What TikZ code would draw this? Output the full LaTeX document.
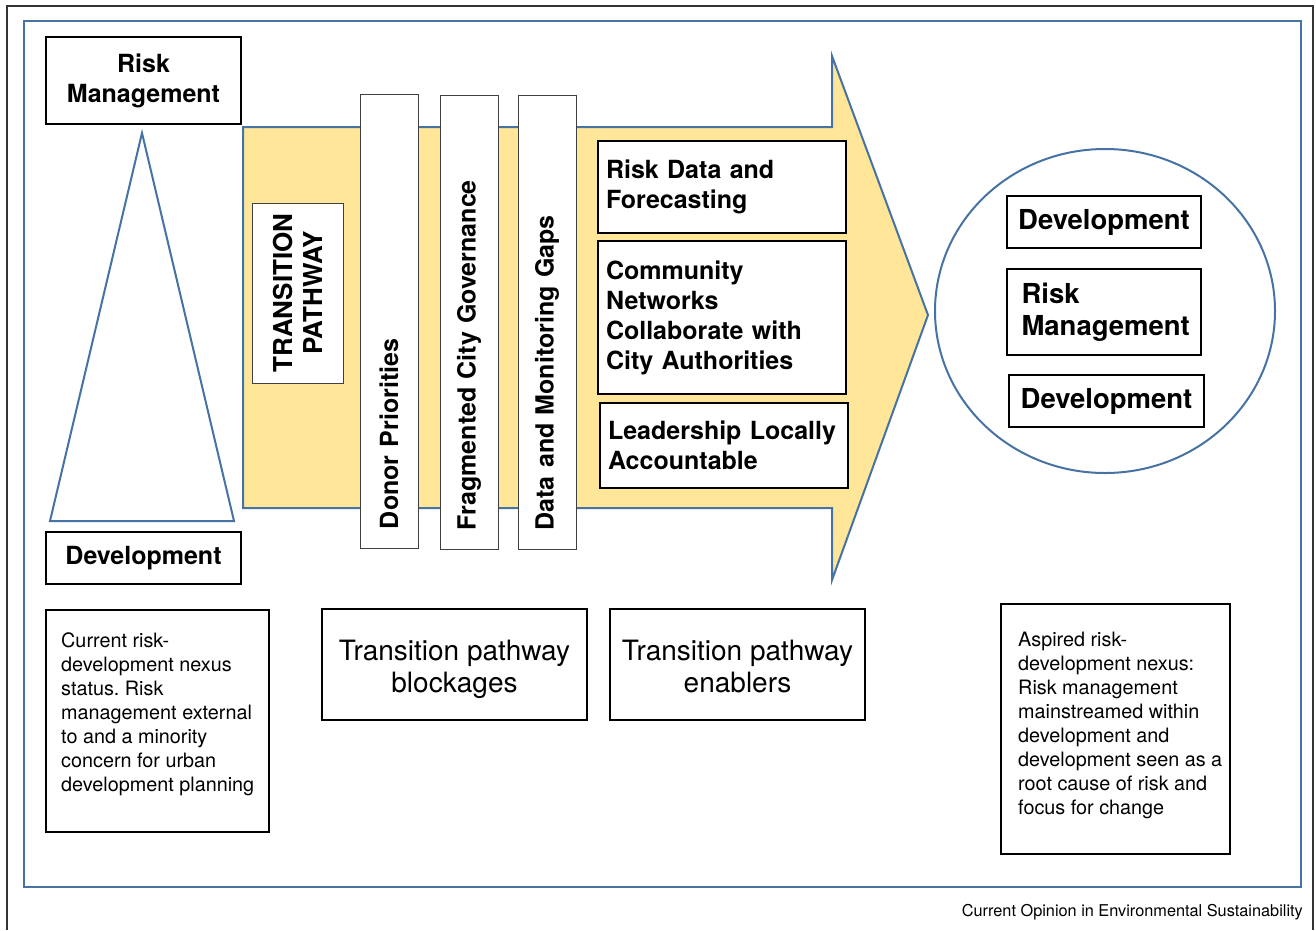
\documentclass[tikz,border=0pt]{standalone}
\usepackage{fontspec}
\setmainfont{TeX Gyre Heros}
\usetikzlibrary{shapes.geometric}
\definecolor{nexusblue}{RGB}{70,114,164}
\definecolor{pathyellow}{RGB}{255,230,153}
\frenchspacing

\tikzset{
  boldbox/.style={draw=black, line width=1.6pt, fill=white, inner sep=0pt,
    align=center, font=\fontsize{25}{30}\selectfont\bfseries},
  bigbold/.style={font=\fontsize{27.5}{32}\selectfont\bfseries},
  enabler/.style={draw=black, line width=1.6pt, fill=white, inner xsep=8pt,
    inner ysep=0pt, text width=232pt, align=left, font=\fontsize{25}{30}\selectfont\bfseries},
  blockbar/.style={draw=black!75, line width=0.8pt, fill=white, rotate=90,
    minimum width=454pt, minimum height=58pt, inner xsep=19pt, inner ysep=0pt,
    text width=416pt, align=left, font=\fontsize{25}{30}\selectfont\bfseries},
  notebox/.style={draw=black, line width=1.4pt, inner sep=0pt},
  bigtext/.style={inner sep=0pt, align=center, font=\fontsize{28}{32}\selectfont},
  notetext/.style={anchor=north west, inner sep=0pt, align=left,
    font=\fontsize{19.8}{24}\selectfont}
}

\begin{document}
\begin{tikzpicture}[x=1pt, y=-1pt]
    \useasboundingbox (0,0) rectangle (1316,930);
    % frames
    \draw[black!80, line width=1.2pt] (7,930) -- (7,6) -- (1313,6) -- (1313,930);
    \draw[nexusblue, line width=2.6pt] (24,21) rectangle (1301,887);

    % current nexus
    \node[boldbox, minimum width=195pt, minimum height=87pt] (riskleft) at (143.5,80.5) {Risk\\Management};
    \draw[nexusblue, line width=2pt] (142,133) -- (234,521) -- (50,521) -- cycle;
    \node[boldbox, minimum width=195pt, minimum height=52pt] (devleft) at (143.5,558) {Development};

    % transition arrow
    \draw[nexusblue, line width=2pt, fill=pathyellow] (243,127) -- (832,127) -- (832,56) -- (928,315)
        -- (832,580) -- (832,508) -- (243,508) -- cycle;
    \node[boldbox, draw=black!75, line width=0.8pt, rotate=90, minimum width=180pt, minimum height=91pt,
        font=\fontsize{26}{30}\selectfont\bfseries] (pathway) at (297.5,293) {TRANSITION\\PATHWAY};

    % blockages
    \node[blockbar] (donor) at (389,321) {Donor Priorities};
    \node[blockbar] (fragmented) at (469,322) {Fragmented City Governance};
    \node[blockbar] (datagaps) at (547,322.5) {Data and Monitoring Gaps};

    % enablers
    \node[enabler, minimum height=92pt] (riskdata) at (722,187) {Risk Data and\\Forecasting};
    \node[enabler, minimum height=153pt] (community) at (722,317.5) {Community\\Networks\\Collaborate with\\City Authorities};
    \node[enabler, minimum height=85pt] (leadership) at (724,445.5) {Leadership Locally\\Accountable};

    % aspired nexus
    \node[ellipse, draw=nexusblue, line width=2pt, minimum width=340pt, minimum height=324pt] (aspired) at (1105,311) {};
    \node[boldbox, bigbold, minimum width=194pt, minimum height=52pt] (devtop) at (1104,222) {Development};
    \node[boldbox, bigbold, align=left, text width=165pt, inner xsep=14.5pt, minimum height=86pt] (riskright) at (1104,312) {Risk\\Management};
    \node[boldbox, bigbold, minimum width=195pt, minimum height=52pt] (devbottom) at (1106.5,401) {Development};

    % captions
    \node[notebox, minimum width=223pt, minimum height=222pt] (currentbox) at (157.5,721) {};
    \node[notetext] (currenttext) at (61,632) {Current risk-\\development nexus\\status. Risk\\management external\\to and a minority\\concern for urban\\development planning};
    \node[notebox, minimum width=265pt, minimum height=111pt] (blockbox) at (454.5,664.5) {};
    \node[bigtext] (blocktext) at ([yshift=-5pt]blockbox.center) {Transition pathway\\blockages};
    \node[notebox, minimum width=255pt, minimum height=111pt] (enablebox) at (737.5,664.5) {};
    \node[bigtext] (enabletext) at ([yshift=-5pt]enablebox.center) {Transition pathway\\enablers\vphantom{g}};
    \node[notebox, minimum width=229pt, minimum height=250pt] (aspiredbox) at (1115.5,729) {};
    \node[notetext] (aspiredtext) at (1018,632) {Aspired risk-\\development nexus:\\Risk management\\mainstreamed within\\development and\\development seen as a\\root cause of risk and\\focus for change};

    \node[anchor=base east, inner sep=0pt, font=\fontsize{16.3}{19}\selectfont] (credit) at (1303,916) {Current Opinion in Environmental Sustainability};
\end{tikzpicture}
\end{document}
